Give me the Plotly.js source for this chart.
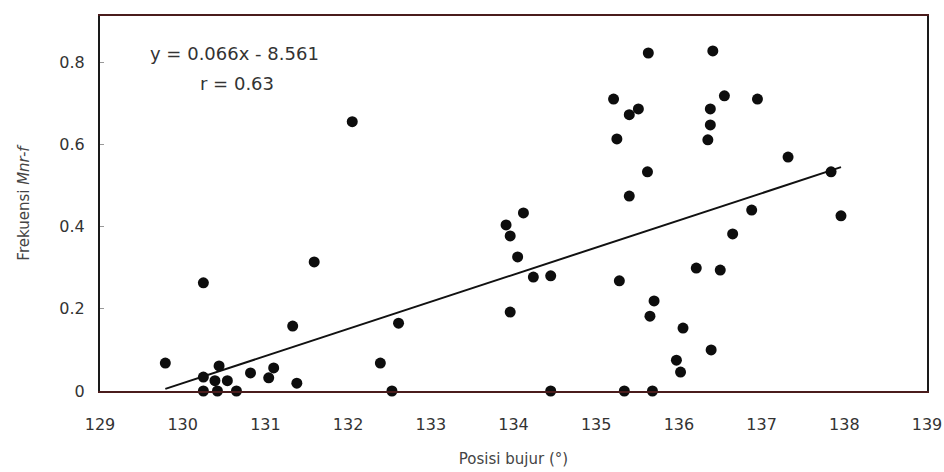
<!DOCTYPE html>
<html>
<head>
<meta charset="utf-8">
<script src="https://cdn.plot.ly/plotly-3.0.1.min.js"></script>
<style>html,body{margin:0;padding:0;background:#fff;}#chart{width:944px;height:472px;}</style>
</head>
<body>
<div id="chart"></div>
<script>
// Longitude (°) of each observation
const longitude = [
  129.79, 130.25, 130.25, 130.25, 130.42, 130.65, 130.44, 130.39, 130.54, 130.82,
  131.04, 131.10, 131.38, 131.33, 131.59, 132.05, 132.39, 132.53, 132.61,
  134.12, 133.91, 133.96, 134.05, 134.24, 134.45, 133.96, 134.45,
  135.63, 136.41, 135.21, 135.51, 135.40, 136.55, 136.95, 136.38, 136.38, 136.35,
  135.25, 135.62, 135.40, 136.88, 136.65, 136.21, 136.50, 135.28, 135.70, 135.65,
  136.05, 136.39, 135.97, 136.02, 135.34, 135.68, 137.32, 137.84, 137.96
];
// Frequency of Mnr-f
const frequency = [
  0.068, 0.263, 0.034, 0.000, 0.000, 0.000, 0.061, 0.025, 0.025, 0.044,
  0.032, 0.056, 0.019, 0.158, 0.314, 0.655, 0.068, 0.000, 0.165,
  0.433, 0.404, 0.377, 0.326, 0.277, 0.280, 0.192, 0.000,
  0.822, 0.827, 0.710, 0.686, 0.672, 0.718, 0.710, 0.686, 0.647, 0.611,
  0.613, 0.533, 0.474, 0.440, 0.382, 0.299, 0.294, 0.268, 0.219, 0.182,
  0.153, 0.100, 0.075, 0.046, 0.000, 0.000, 0.569, 0.533, 0.426
];
// Regression y = slope * x + intercept
const slope = 0.066;
const intercept = -8.561;
const xTicks = [129, 130, 131, 132, 133, 134, 135, 136, 137, 138, 139];
const yTicks = [0, 0.2, 0.4, 0.6, 0.8];
const yTickLabels = ['0', '0.2', '0.4', '0.6', '0.8'];

const xMin = Math.min(...longitude), xMax = Math.max(...longitude);
const fitX = [xMin, xMax];
const fitY = fitX.map(v => slope * v + intercept);

const font = "DejaVu Sans, Verdana, sans-serif";

const traces = [
  {
    x: fitX, y: fitY, mode: 'lines', type: 'scatter',
    line: {color: '#111', width: 2}, hoverinfo: 'skip', cliponaxis: false
  },
  {
    x: longitude, y: frequency, mode: 'markers', type: 'scatter',
    marker: {color: '#0d0d0d', size: 11, line: {width: 0}},
    cliponaxis: false
  }
];

const layout = {
  width: 944, height: 472,
  margin: {l: 100, r: 17, t: 16, b: 81},
  paper_bgcolor: '#fff', plot_bgcolor: '#fff',
  showlegend: false,
  font: {family: font, size: 16, color: '#333'},
  xaxis: {
    range: [129, 139], tickvals: xTicks, ticktext: xTicks.map(String),
    showgrid: false, zeroline: false,
    showline: true, linecolor: '#4a1c1c', linewidth: 2, mirror: true,
    ticks: '', ticklabelstandoff: 18,
    tickfont: {family: font, size: 16, color: '#333'},
    title: {text: 'Posisi bujur (°)', font: {family: font, size: 15, color: '#444'}, standoff: 20}
  },
  yaxis: {
    range: [0, 0.912], tickvals: yTicks, ticktext: yTickLabels,
    showgrid: false, zeroline: false,
    showline: true, linecolor: '#1a1a1a', linewidth: 2, mirror: true,
    ticks: 'inside', ticklen: 4, tickcolor: '#999', tickwidth: 1,
    ticklabelstandoff: 10,
    tickfont: {family: font, size: 16, color: '#333'},
    title: {text: 'Frekuensi <i>Mnr-f</i>', font: {family: font, size: 15, color: '#444'}, standoff: 26}
  },
  annotations: [
    {xref: 'paper', yref: 'paper', x: 0.058, y: 0.9, xanchor: 'left', yanchor: 'middle',
     text: 'y = 0.066x - 8.561', showarrow: false, font: {family: font, size: 18, color: '#333'}},
    {xref: 'paper', yref: 'paper', x: 0.118, y: 0.82, xanchor: 'left', yanchor: 'middle',
     text: 'r = 0.63', showarrow: false, font: {family: font, size: 18, color: '#333'}}
  ]
};

Plotly.newPlot('chart', traces, layout, {displayModeBar: false, staticPlot: true});
</script>
</body>
</html>
